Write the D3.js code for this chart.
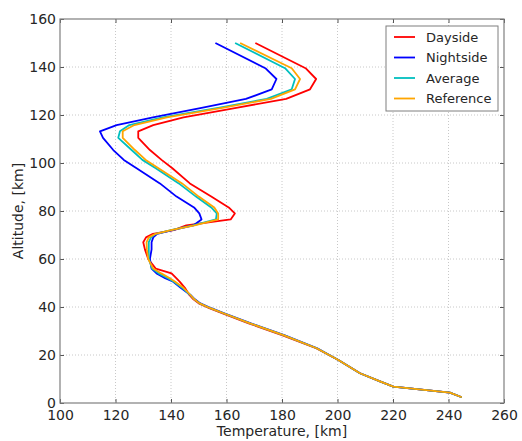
<!DOCTYPE html>
<html>
<head>
<meta charset="utf-8">
<script src="https://cdn.jsdelivr.net/npm/d3@7"></script>
<style>
  html, body { margin: 0; padding: 0; background: #ffffff; }
  svg { display: block; }
  text { font-family: "DejaVu Sans", sans-serif; fill: #262626; }
</style>
</head>
<body>
<div id="chart"></div>
<script>
// ---- data ----
const altitude = [2.4, 4.3, 6.8, 9, 12.4, 17.9, 22.8, 28.3, 33.2, 37.4, 39.5, 41.5, 43.2, 45, 48, 50.5, 52, 54, 56, 60, 64, 67, 69, 70.5, 72, 74, 76.5, 79, 81.5, 86, 91.5, 97.8, 101.3, 105.4, 110.5, 113.2, 115.8, 119, 123, 126.7, 130.7, 135, 139.5, 150];

const dayside = [244.8, 240.5, 220.1, 215.3, 208.1, 200.3, 192.3, 180.0, 168.0, 158.4, 153.8, 150.0, 148.1, 146.6, 145.0, 143.2, 141.9, 140.2, 134.5, 131.8, 130.6, 130.0, 131.0, 133.5, 141.0, 145.5, 161.5, 163.0, 160.8, 154.5, 146.8, 140.5, 136.6, 132.4, 128.2, 128.2, 133.6, 144.5, 163.5, 181.5, 190.1, 192.3, 188.5, 170.4];

const nightside = [244.8, 240.5, 220.1, 215.3, 208.1, 200.3, 192.7, 180.8, 168.8, 159.2, 154.5, 150.6, 148.6, 147.0, 143.5, 140.8, 137.9, 134.8, 133.0, 132.4, 133.0, 133.0, 133.6, 135.0, 140.5, 148.0, 151.0, 150.2, 148.3, 142.0, 136.0, 127.6, 123.0, 119.2, 115.5, 114.4, 120.4, 133.5, 151.0, 167.0, 176.3, 178.0, 174.0, 156.0];

const average = [244.8, 240.5, 220.1, 215.3, 208.1, 200.3, 192.5, 180.5, 168.5, 158.9, 154.2, 150.3, 148.4, 147.0, 144.0, 141.0, 138.8, 135.5, 133.2, 132.0, 132.0, 132.0, 132.8, 134.5, 140.0, 148.0, 156.2, 156.5, 154.5, 149.0, 142.8, 134.5, 129.7, 125.8, 121.0, 121.6, 125.0, 137.0, 157.0, 174.5, 183.5, 184.7, 181.1, 163.1];

const reference = [244.8, 240.5, 220.1, 215.3, 208.1, 200.3, 192.5, 180.5, 168.5, 158.9, 154.2, 150.3, 148.4, 147.0, 144.5, 141.5, 139.6, 136.5, 133.6, 131.8, 131.3, 131.2, 132.0, 134.5, 140.0, 148.5, 157.0, 157.0, 155.6, 150.0, 144.0, 135.5, 130.9, 127.0, 122.6, 122.6, 126.8, 138.5, 158.5, 176.0, 184.7, 186.5, 183.5, 164.9];

const seriesNames = ["Dayside", "Nightside", "Average", "Reference"];
const seriesColors = ["#ff0000", "#0000ff", "#00bfbf", "#ffa500"];
const xTicks = [100, 120, 140, 160, 180, 200, 220, 240, 260];
const yTicks = [0, 20, 40, 60, 80, 100, 120, 140, 160];
const xLabel = "Temperature, [km]";
const yLabel = "Altitude, [km]";

// ---- layout ----
const W = 522, H = 441;
const m = { left: 60, top: 19, right: 18, bottom: 38 };
const iw = W - m.left - m.right, ih = H - m.top - m.bottom;

const svg = d3.select("#chart").append("svg").attr("width", W).attr("height", H);
const g = svg.append("g").attr("transform", `translate(${m.left},${m.top})`);

const x = d3.scaleLinear().domain([100, 260]).range([0, iw]);
const y = d3.scaleLinear().domain([0, 160]).range([ih, 0]);

// grid
g.append("g").selectAll("line").data(xTicks.slice(1, -1)).join("line")
  .attr("x1", d => x(d)).attr("x2", d => x(d)).attr("y1", 0).attr("y2", ih)
  .attr("stroke", "#c8c8c8").attr("stroke-width", 1).attr("stroke-dasharray", "1,2");
g.append("g").selectAll("line").data(yTicks.slice(1, -1)).join("line")
  .attr("y1", d => y(d)).attr("y2", d => y(d)).attr("x1", 0).attr("x2", iw)
  .attr("stroke", "#c8c8c8").attr("stroke-width", 1).attr("stroke-dasharray", "1,2");

// axes
const xAxis = d3.axisBottom(x).tickValues(xTicks).tickSize(-4).tickPadding(7).tickFormat(d3.format("d"));
const yAxis = d3.axisLeft(y).tickValues(yTicks).tickSize(-4).tickPadding(4).tickFormat(d3.format("d"));
const gx = g.append("g").attr("transform", `translate(0,${ih})`).call(xAxis);
const gy = g.append("g").call(yAxis);
[gx, gy].forEach(a => {
  a.select(".domain").remove();
  a.selectAll(".tick line").attr("stroke", "#555");
  a.selectAll(".tick text").attr("font-size", 14).style("font-family", "DejaVu Sans, sans-serif").attr("fill", "#262626");
});
// top/right ticks
const gxt = g.append("g").call(d3.axisTop(x).tickValues(xTicks).tickSize(-4).tickFormat(""));
const gyr = g.append("g").attr("transform", `translate(${iw},0)`).call(d3.axisRight(y).tickValues(yTicks).tickSize(-4).tickFormat(""));
[gxt, gyr].forEach(a => { a.select(".domain").remove(); a.selectAll(".tick line").attr("stroke", "#555"); });

// lines
const clip = svg.append("clipPath").attr("id", "clip").append("rect").attr("width", iw).attr("height", ih);
const allSeries = [dayside, nightside, average, reference];
const line = d3.line().x(d => x(d[0])).y(d => y(d[1])).curve(d3.curveLinear);
g.append("g").attr("clip-path", "url(#clip)").selectAll("path").data(allSeries).join("path")
  .attr("d", s => line(s.map((t, i) => [t, altitude[i]])))
  .attr("fill", "none")
  .attr("stroke", (s, i) => seriesColors[i])
  .attr("stroke-width", 1.8)
  .attr("stroke-linejoin", "round");

// frame
g.append("rect").attr("width", iw).attr("height", ih).attr("fill", "none").attr("stroke", "#7f7f7f").attr("stroke-width", 1.2);

// axis labels
svg.append("text").attr("x", m.left + iw / 2).attr("y", 436).attr("text-anchor", "middle").attr("font-size", 14).text(xLabel);
svg.append("text").attr("transform", `translate(23,${m.top + ih / 2}) rotate(-90)`).attr("text-anchor", "middle").attr("font-size", 14).text(yLabel);

// legend
const lg = svg.append("g").attr("transform", "translate(386,26)");
lg.append("rect").attr("width", 112).attr("height", 85).attr("fill", "#fff").attr("stroke", "#7f7f7f").attr("stroke-width", 1);
seriesNames.forEach((n, i) => {
  const cy = 11 + i * 20.5;
  lg.append("line").attr("x1", 8).attr("x2", 29).attr("y1", cy).attr("y2", cy).attr("stroke", seriesColors[i]).attr("stroke-width", 1.8);
  lg.append("text").attr("x", 40).attr("y", cy).attr("dy", "0.35em").attr("font-size", 13).text(n);
});
</script>
</body>
</html>
